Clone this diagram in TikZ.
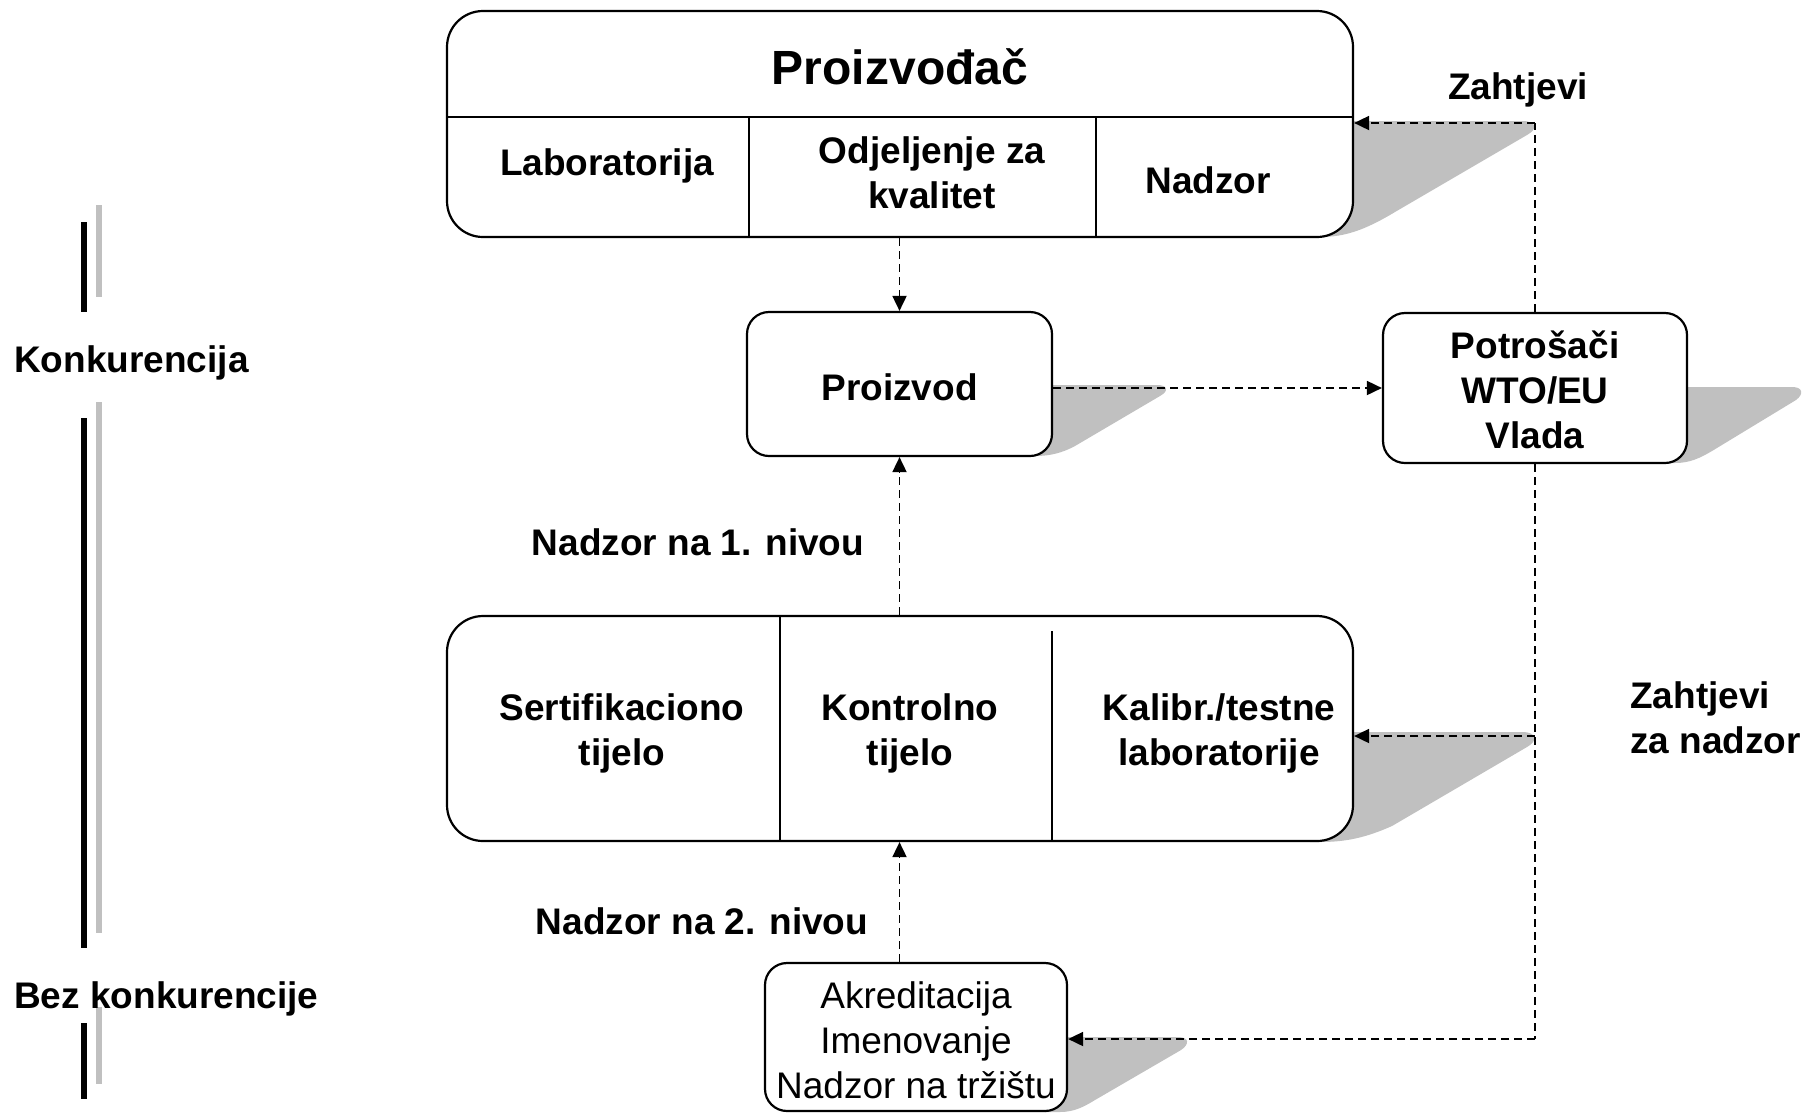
\documentclass[tikz,border=0pt]{standalone}
\usepackage{fontspec}
\setmainfont{Liberation Sans}
\usetikzlibrary{arrows.meta}
\definecolor{shadegray}{RGB}{192,192,192}
\begin{document}
\begin{tikzpicture}[x=1pt,y=-1pt,
  bigbox/.style={draw=black, line width=2.2pt, fill=white, rounded corners=36pt, inner sep=0pt},
  smallbox/.style={draw=black, line width=2.2pt, fill=white, rounded corners=22pt, inner sep=0pt},
  txt/.style={font=\fontsize{37}{45}\selectfont\bfseries, align=center, inner sep=0pt},
  rtxt/.style={font=\fontsize{37}{45}\selectfont, align=center, inner sep=0pt},
  divider/.style={draw=black, line width=1.8pt},
  dline/.style={draw=black, line width=1.8pt, dash pattern=on 8pt off 5pt},
  conn/.style={dline, -{Triangle[length=15pt,width=14pt]}},
  shadowfill/.style={fill=shadegray},
  blackbar/.style={draw=black, line width=6pt},
  graybar/.style={draw=shadegray, line width=6pt}
]
\fill[white] (0,0) rectangle (1806,1112);
\useasboundingbox (0,0) rectangle (1806,1112);

% shadows
\fill[shadowfill] (1310,121) -- (1522,121) .. controls (1537,121) and (1538,129) .. (1527,135) -- (1395,212) .. controls (1365,230) and (1345,237) .. (1320,237) -- (1310,237) -- cycle;
\fill[shadowfill] (1310,732) -- (1522,732) .. controls (1537,732) and (1538,741) .. (1527,747) -- (1392,826) .. controls (1365,838) and (1345,842) .. (1320,842) -- (1310,842) -- cycle;
\fill[shadowfill] (1030,385) -- (1157,385) .. controls (1168,385) and (1169,391) .. (1160,396) -- (1075,446) .. controls (1062,453) and (1050,456) .. (1035,456) -- (1030,456) -- cycle;
\fill[shadowfill] (1665,387) -- (1792,387) .. controls (1803,387) and (1804,394) .. (1796,400) -- (1712,451) .. controls (1700,458) and (1690,463) .. (1675,463) -- (1665,463) -- cycle;
\fill[shadowfill] (1045,1037) -- (1178,1037) .. controls (1189,1037) and (1190,1044) .. (1181,1050) -- (1095,1100) .. controls (1085,1106) and (1075,1112) .. (1060,1112) -- (1045,1112) -- cycle;

% boxes
\node[bigbox, minimum width=906pt, minimum height=226pt] (prod) at (900,124) {};
\draw[divider] (447,117) -- (1353,117);
\draw[divider] (749,117) -- (749,237);
\draw[divider] (1096,117) -- (1096,237);
\node[txt, font=\fontsize{48}{52}\selectfont\bfseries] (ptitle) at (900,67) {Proizvođač};
\node[txt] (lab) at (607,166) {Laboratorija};
\node[txt] (odj) at (932,173) {Odjeljenje za\\kvalitet};
\node[txt] (nad) at (1208,180) {Nadzor};

\node[smallbox, minimum width=305pt, minimum height=144pt] (proizvod) at (899.5,384) {};
\node[txt] (proizvodt) at (899.5,387) {Proizvod};

\node[smallbox, minimum width=304pt, minimum height=150pt] (potr) at (1535,388) {};
\node[txt] (potrt) at (1535,390) {Potrošači\\WTO/EU\\Vlada};

\node[bigbox, minimum width=906pt, minimum height=225pt] (bodies) at (900,728.5) {};
\draw[divider] (780,616) -- (780,841);
\draw[divider] (1052,631) -- (1052,841);
\node[txt] (sert) at (622,733) {Sertifikaciono\\tijelo};
\node[txt] (kont) at (910,733) {Kontrolno\\tijelo};
\node[txt] (kal) at (1219,733) {Kalibr./testne\\laboratorije};

\node[smallbox, minimum width=302pt, minimum height=148pt] (akred) at (916,1037) {};
\node[rtxt] (akredt) at (916,1040) {Akreditacija\\Imenovanje\\Nadzor na tržištu};

% labels
\node[txt] (n1) at (698,542) {Nadzor na 1. nivou};
\node[txt] (n2) at (702,921) {Nadzor na 2. nivou};
\node[txt] (zah) at (1518,90) {Zahtjevi};
\node[txt, anchor=west, align=left] (zahn) at (1630,718) {Zahtjevi\\za nadzor};
\node[txt, anchor=west] (konk) at (14,363) {Konkurencija};

% left bars
\draw[blackbar] (83.7,222) -- (83.7,312);
\draw[graybar] (99.3,205) -- (99.3,297);
\draw[blackbar] (83.7,418) -- (83.7,948);
\draw[graybar] (99.3,402) -- (99.3,933);
\draw[blackbar] (83.7,1023) -- (83.7,1099);
\draw[graybar] (99.3,1007) -- (99.3,1084);
\node[txt, anchor=west] (bez) at (14,999) {Bez konkurencije};

% connectors
\coordinate (topj) at (1535,123);
\coordinate (midj) at (1535,736);
\coordinate (botj) at (1535,1039);
\draw[conn] (prod.south -| proizvod.north) -- (proizvod.north);
\draw[conn] (bodies.north -| proizvod.south) -- (proizvod.south);
\draw[conn] (akred.north -| proizvod.south) -- (bodies.south -| proizvod.south);
\draw[conn] (proizvod.east |- potr.west) -- (potr.west);
\draw[dline] (potr.north) -- (topj);
\draw[conn] (topj) -- (topj -| prod.east);
\draw[dline] (potr.south) -- (botj);
\draw[conn] (midj) -- (midj -| bodies.east);
\draw[conn] (botj) -- (botj -| akred.east);
\end{tikzpicture}
\end{document}
